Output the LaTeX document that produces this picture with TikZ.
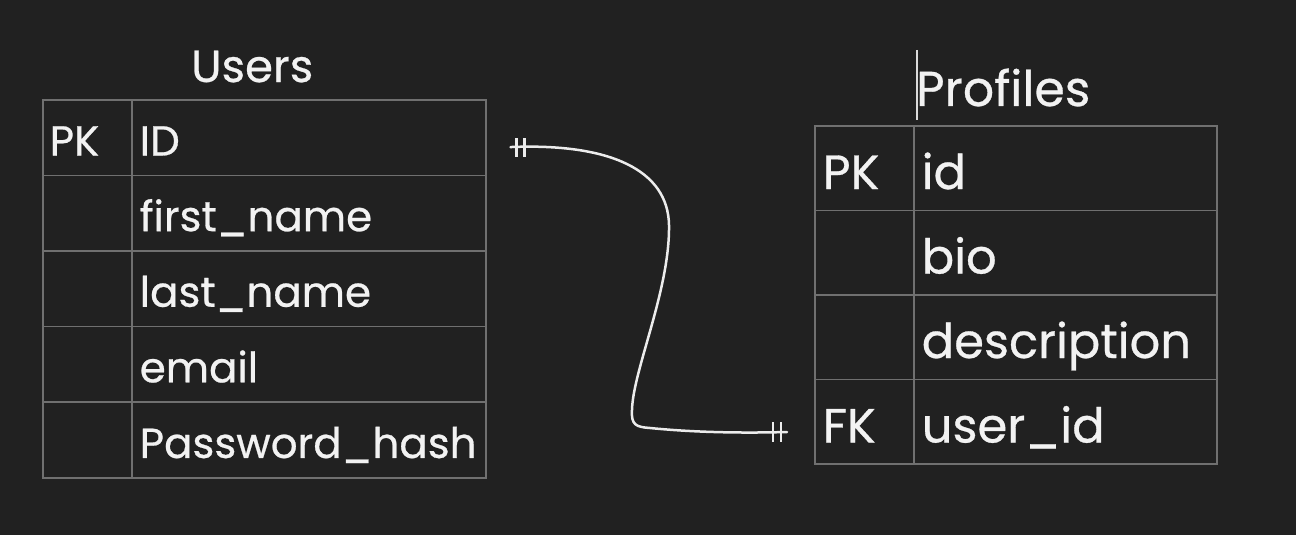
\documentclass[tikz,border=0pt]{standalone}
\usepackage{fontspec}
\setmainfont{Poppins}[FakeBold=0.6]
\usetikzlibrary{positioning}
\definecolor{bg}{RGB}{33,33,33}
\definecolor{gridc}{RGB}{112,112,112}
\definecolor{txt}{RGB}{242,242,242}
\definecolor{conn}{RGB}{236,236,236}
\tikzset{
  ucell/.style={draw=gridc, line width=1.5pt, anchor=north west, minimum height=75.6pt,
    text=txt, align=left, inner xsep=7pt, inner ysep=0pt, text height=44pt, text depth=8pt,
    font=\fontsize{42}{50}\selectfont},
  pcell/.style={draw=gridc, line width=1.5pt, anchor=north west, minimum height=84.5pt,
    text=txt, align=left, inner xsep=8pt, inner ysep=0pt, text height=50pt, text depth=8pt,
    font=\fontsize{48}{54}\selectfont},
  title/.style={text=txt, anchor=base west, inner sep=0pt},
  conline/.style={draw=conn, line width=2.5pt, line cap=round},
  tick/.style={draw=conn, line width=2.5pt}
}
\begin{document}
\begin{tikzpicture}[x=1pt,y=-1pt]
\fill[bg] (0,0) rectangle (1296,535);
\useasboundingbox (0,0) rectangle (1296,535);
% Users
\node[title, font=\fontsize{45}{50}\selectfont] (ut) at (191,82) {Users};
\foreach \i/\a/\b in {1/PK/ID, 2//first\_name, 3//last\_name, 4//email, 5//Password\_hash}{
  \node[ucell, minimum width=89pt, text width=75pt] (u\i a) at (42,{99+(\i-1)*75.6}) {\a};
  \node[ucell, minimum width=354pt, text width=338pt] (u\i b) at (131,{99+(\i-1)*75.6}) {\b};
}
% Profiles
\draw[draw=txt!80!gray, line width=1.5pt] (917,50) -- (917,120);
\node[title, font=\fontsize{49}{54}\selectfont] (pt) at (916,106) {Profiles};
\foreach \i/\a/\b in {1/PK/id, 2//bio, 3//description, 4/FK/user\_id}{
  \node[pcell, minimum width=99pt, text width=83pt] (p\i a) at (814,{125+(\i-1)*84.5}) {\a};
  \node[pcell, minimum width=303pt, text width=287pt] (p\i b) at (913,{125+(\i-1)*84.5}) {\b};
}
% connector
\coordinate (cs) at ([xshift=24pt,yshift=-9.5pt]u1b.east);
\coordinate (ce) at ([xshift=-27pt,yshift=-10.5pt]p4a.west);
\draw[conline] (cs) .. controls (610,143) and (668,170) .. (669,225)
  .. controls (670,290) and (633,370) .. (632,410)
  .. controls (631,425) and (636,427) .. (650,428)
  .. controls (700,433) and (750,433) .. (ce);
\draw[tick] ([xshift=6pt,yshift=9pt]cs) -- ([xshift=6pt,yshift=-10pt]cs);
\draw[tick] ([xshift=14pt,yshift=9pt]cs) -- ([xshift=14pt,yshift=-10pt]cs);
\draw[tick] ([xshift=-14pt,yshift=10pt]ce) -- ([xshift=-14pt,yshift=-10pt]ce);
\draw[tick] ([xshift=-6pt,yshift=10pt]ce) -- ([xshift=-6pt,yshift=-10pt]ce);
\end{tikzpicture}
\end{document}
